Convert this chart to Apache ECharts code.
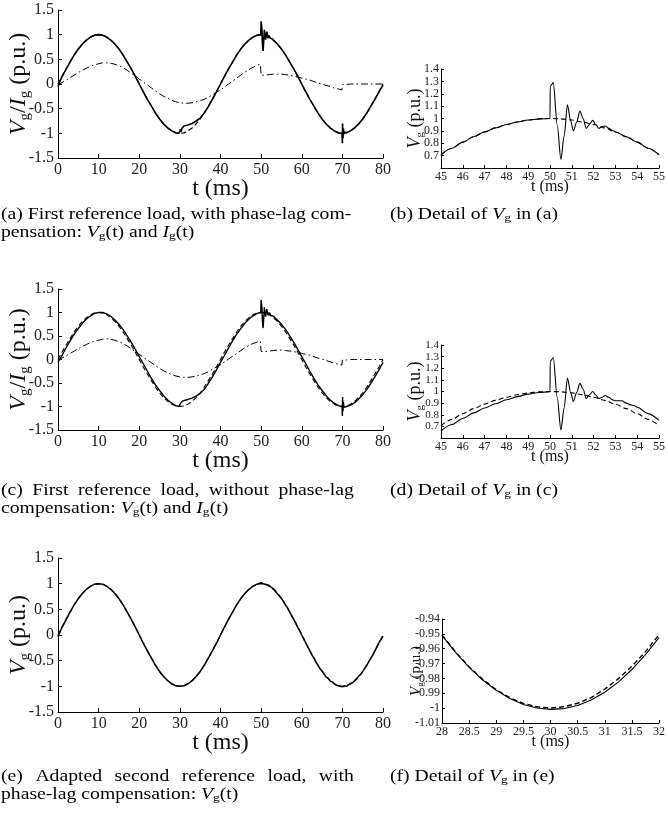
<!DOCTYPE html>
<html><head><meta charset="utf-8">
<script src="https://cdn.jsdelivr.net/npm/echarts@6/dist/echarts.min.js"></script>
<style>html,body{margin:0;padding:0;background:#fff}#c{width:668px;height:817px}</style>
</head><body><div id="c"></div>
<script>
// ---------------- DATA ----------------
// reference voltage (dashed), main plots, 1 ms steps
const tRef = [0,1,2,3,4,5,6,7,8,9,10,11,12,13,14,15,16,17,18,19,20,21,22,23,24,25,26,27,28,29,30,31,32,33,34,35,36,37,38,39,40,41,42,43,44,45,46,47,48,49,50,51,52,53,54,55,56,57,58,59,60,61,62,63,64,65,66,67,68,69,70,71,72,73,74,75,76,77,78,79,80];
const vRef = [0,0.16,0.31,0.45,0.59,0.71,0.81,0.89,0.95,0.99,1,0.99,0.95,0.89,0.81,0.71,0.59,0.45,0.31,0.16,0,-0.16,-0.31,-0.45,-0.59,-0.71,-0.81,-0.89,-0.95,-0.99,-1,-0.99,-0.95,-0.89,-0.81,-0.71,-0.59,-0.45,-0.31,-0.16,0,0.16,0.31,0.45,0.59,0.71,0.81,0.89,0.95,0.99,1,0.99,0.95,0.89,0.81,0.71,0.59,0.45,0.31,0.16,0,-0.16,-0.31,-0.45,-0.59,-0.71,-0.81,-0.89,-0.95,-0.99,-1,-0.99,-0.95,-0.89,-0.81,-0.71,-0.59,-0.45,-0.31,-0.16,0];

// measured V_g time base (a),(c)
const tMain = [0,0.5,1,
  2,3,4,5,6,7,8,9,10,11,12,13,14,15,16,17,18,19,20,21,22,23,24,25,26,27,28,29,
  29.8,30,30.15,30.3,30.5,30.7,
  31,32,33,34,35,36,37,38,39,40,41,42,43,44,45,46,47,48,49,
  49.9,
  50,50.1,50.2,50.3,50.4,50.5,50.65,50.8,50.95,51.1,51.25,51.4,51.55,51.7,51.85,52,52.2,52.4,52.6,52.8,53,
  54,55,56,57,58,59,60,61,62,63,64,65,66,67,68,69,
  69.9,
  70,70.05,70.15,70.25,70.35,70.5,70.7,
  71,72,73,74,75,76,77,78,79,80];
const vgA = [-0.05,0.06,0.15,
  0.3,0.45,0.59,0.71,0.81,0.89,0.95,0.99,1,0.99,0.95,0.89,0.81,0.71,0.59,0.45,0.31,0.16,0,-0.16,-0.31,-0.45,-0.59,-0.71,-0.81,-0.89,-0.95,-0.99,
  -1,-0.98,-0.92,-0.97,-0.9,-0.87,
  -0.85,-0.83,-0.8,-0.75,-0.69,-0.59,-0.46,-0.31,-0.16,0,0.16,0.31,0.45,0.59,0.71,0.81,0.89,0.95,0.99,
  1,
  1.27,1.29,1.1,0.85,0.72,0.67,0.9,1.1,0.98,0.9,0.98,1.06,1,0.93,0.95,0.98,0.93,0.94,0.93,0.91,0.89,
  0.81,0.71,0.59,0.45,0.31,0.16,0,-0.16,-0.31,-0.45,-0.59,-0.71,-0.81,-0.89,-0.95,-0.99,
  -1,
  -1.2,-0.8,-1.1,-0.9,-1.02,-0.97,-0.99,
  -0.99,-0.95,-0.89,-0.81,-0.71,-0.59,-0.45,-0.31,-0.16,-0.02];
const vgC = [-0.05,0.02,0.09,
  0.25,0.4,0.54,0.66,0.77,0.86,0.93,0.98,1,1,0.97,0.92,0.84,0.75,0.64,0.51,0.37,0.22,0.06,-0.09,-0.25,-0.4,-0.54,-0.66,-0.77,-0.86,-0.93,-0.98,
  -1,-0.99,-0.93,-0.97,-0.91,-0.88,
  -0.86,-0.85,-0.82,-0.78,-0.72,-0.64,-0.51,-0.37,-0.22,-0.06,0.09,0.25,0.4,0.54,0.66,0.77,0.86,0.93,0.98,
  1,
  1.27,1.29,1.1,0.85,0.72,0.67,0.9,1.11,0.98,0.91,0.99,1.07,1.01,0.94,0.97,1,0.96,0.94,0.965,0.94,0.92,
  0.84,0.75,0.64,0.51,0.37,0.22,0.06,-0.09,-0.25,-0.4,-0.54,-0.66,-0.77,-0.86,-0.93,-0.98,
  -1,
  -1.2,-0.8,-1.1,-0.9,-1.02,-0.98,-1,
  -1,-0.97,-0.92,-0.84,-0.75,-0.64,-0.51,-0.37,-0.22,-0.06];

// measured current I_g (dash-dot)
const tIg = [0,1,2,3,4,5,6,7,8,9,10,11,12,13,14,15,16,17,18,19,20,21,22,23,24,25,26,27,28,29,30,31,32,33,34,35,36,37,38,39,40,41,42,43,44,45,46,47,48,49,
  49.8,
  50,51,52,53,54,55,56,57,58,59,60,61,62,63,64,65,66,67,68,69,
  69.9,
  70,71,72,73,74,75,76,77,78,79,80];
const igA = [-0.02,0.03,0.08,0.13,0.18,0.23,0.28,0.32,0.36,0.39,0.41,0.43,0.43,0.42,0.4,0.37,0.33,0.28,0.22,0.16,0.1,0.04,-0.02,-0.08,-0.14,-0.2,-0.25,-0.29,-0.33,-0.36,-0.38,-0.39,-0.39,-0.38,-0.36,-0.34,-0.31,-0.27,-0.22,-0.17,-0.12,-0.06,0,0.06,0.12,0.18,0.24,0.29,0.34,0.38,
  0.4,
  0.18,0.18,0.19,0.2,0.2,0.2,0.19,0.18,0.16,0.14,0.12,0.1,0.08,0.05,0.02,0,-0.03,-0.05,-0.08,-0.1,
  -0.12,
  -0.01,-0.01,0,0,0,0,0,0,0,0,0];
const igC = [-0.02,0.03,0.08,0.13,0.18,0.23,0.28,0.32,0.36,0.39,0.41,0.43,0.44,0.43,0.41,0.38,0.34,0.29,0.23,0.17,0.11,0.05,-0.01,-0.07,-0.13,-0.19,-0.24,-0.28,-0.32,-0.35,-0.37,-0.38,-0.38,-0.37,-0.35,-0.33,-0.3,-0.26,-0.21,-0.16,-0.11,-0.05,0.01,0.07,0.13,0.19,0.25,0.3,0.34,0.37,
  0.39,
  0.17,0.17,0.18,0.19,0.2,0.2,0.19,0.18,0.17,0.15,0.13,0.11,0.09,0.06,0.03,0.01,-0.02,-0.05,-0.08,-0.1,
  -0.12,
  -0.01,-0.01,0,0,0,0,0,0,0,0,0];

// (e) measured V_g
const tE = [0,0.5,1,2,3,4,5,6,7,8,9,10,11,12,13,14,15,16,17,18,19,20,21,22,23,24,25,26,27,28,29,30,31,32,33,34,35,36,37,38,39,40,41,42,43,44,45,46,47,48,49,50,
  50.5,51,51.5,52,52.5,53,53.5,54,54.5,55,55.5,56,56.5,57,57.5,58,58.5,59,59.5,60,60.5,61,61.5,62,62.5,63,63.5,64,64.5,65,65.5,66,66.5,67,67.5,68,68.5,69,69.5,70,70.5,71,71.5,72,72.5,73,73.5,74,74.5,75,75.5,76,76.5,77,77.5,78,78.5,79,79.5,80];
const vgE = [-0.03,0.06,0.15,0.3,0.45,0.59,0.71,0.81,0.89,0.95,0.99,1,0.99,0.95,0.89,0.81,0.71,0.59,0.45,0.31,0.16,0,-0.16,-0.31,-0.45,-0.59,-0.71,-0.81,-0.89,-0.95,-0.99,-1,-0.99,-0.95,-0.89,-0.81,-0.71,-0.59,-0.45,-0.31,-0.16,0,0.16,0.31,0.45,0.59,0.71,0.81,0.89,0.95,0.99,1.02,
  1,0.99,0.98,0.965,0.93,0.9,0.86,0.8,0.765,0.71,0.655,0.58,0.53,0.455,0.375,0.31,0.23,0.15,0.085,0,-0.07,-0.16,-0.23,-0.31,-0.39,-0.45,-0.53,-0.59,-0.66,-0.7,-0.76,-0.82,-0.84,-0.9,-0.91,-0.95,-0.98,-0.99,-1,-1.01,-0.99,-1,-0.97,-0.95,-0.93,-0.89,-0.86,-0.8,-0.77,-0.71,-0.65,-0.59,-0.52,-0.45,-0.39,-0.31,-0.23,-0.15,-0.09,-0.02];

// detail (b), (d)
const tDetRef = [45,45.5,46,46.5,47,47.5,48,48.5,49,49.5,50,50.5,51,51.5,52,52.5,53,53.5,54,54.5,55];
const vDetRef = [0.707,0.76,0.809,0.853,0.891,0.924,0.951,0.972,0.988,0.997,1,0.997,0.988,0.972,0.951,0.924,0.891,0.853,0.809,0.76,0.707];
const tB = [45,45.5,46,46.5,47,47.5,48,48.5,49,49.5,50,50.01,50.15,50.33,50.5,50.65,50.8,50.95,51.07,51.22,51.37,51.52,51.66,51.8,51.96,52.1,52.24,52.4,52.53,52.7,52.85,53,53.5,54,54.5,55];
const vB = [0.707,0.76,0.809,0.853,0.891,0.924,0.951,0.972,0.988,0.997,1,1.26,1.29,0.95,0.67,0.86,1.11,0.98,0.9,0.97,1.06,1,0.92,0.95,0.985,0.95,0.92,0.935,0.94,0.92,0.905,0.891,0.853,0.809,0.76,0.707];
const tD = [45,45.5,46,46.5,47,47.5,48,48.5,49,49.5,50,50.01,50.15,50.33,50.5,50.65,50.8,50.95,51.07,51.22,51.37,51.52,51.66,51.8,51.96,52.1,52.24,52.4,52.53,52.7,52.85,53,53.3,53.5,53.7,53.85,54,54.5,55];
const vD = [0.66,0.716,0.768,0.816,0.858,0.895,0.929,0.956,0.977,0.992,0.998,1.26,1.29,0.95,0.67,0.86,1.115,0.99,0.915,0.99,1.07,1.02,0.94,0.97,1,0.97,0.94,0.95,0.965,0.95,0.93,0.92,0.92,0.9,0.885,0.88,0.865,0.81,0.752];

// detail (f)
const tF = [28,28.25,28.5,28.75,29,29.25,29.5,29.75,30,30.25,30.5,30.75,31,31.25,31.5,31.75,32];
const vF = [-0.9511,-0.9624,-0.9725,-0.9811,-0.988,-0.9935,-0.9975,-0.9999,-1.0008,-1.0003,-0.9982,-0.9945,-0.9893,-0.9825,-0.974,-0.964,-0.9525];
const vFRef = [-0.9508,-0.9622,-0.9722,-0.9806,-0.9876,-0.993,-0.9968,-0.9991,-0.9999,-0.9991,-0.9967,-0.9929,-0.9872,-0.9802,-0.9718,-0.962,-0.9506];

// tick definitions
const mainX = {min:0, max:80, step:10};
const mainY = {min:-1.5, max:1.5, step:0.5};
const detX = {min:45, max:55, step:1};
const detY = {min:0.6, max:1.4, step:0.1};
const fX = {min:28, max:32, step:0.5};
const fY = {min:-1.01, max:-0.94, step:0.01};

// ---------------- CHART ----------------
const FONT = "'Liberation Serif','Times New Roman',serif";
const pairs = (t, v) => t.map((x, i) => [x, v[i]]);
const fmt = v => String(parseFloat((+v).toFixed(3)));

const grids = [
  {left:58, top:10, width:325, height:148},
  {left:441, top:69, width:222, height:99},
  {left:58, top:289, width:325, height:141},
  {left:441, top:345, width:222, height:93},
  {left:58, top:558, width:325, height:154},
  {left:442, top:619, width:221, height:104}
];

function xAx(i, r, big, gap) {
  return {type:'value', gridIndex:i, min:r.min, max:r.max, interval:r.step,
    axisLine:{show:true, onZero:false, lineStyle:{color:'#000', width:1}},
    axisTick:{show:true, inside:true, length: big?4:3, lineStyle:{color:'#000'}},
    splitLine:{show:false},
    axisLabel:{color:'#222', fontFamily:FONT, fontSize: big?16:12, margin: big?4:3, formatter:fmt, showMinLabel:true, showMaxLabel:true, hideOverlap:false},
    name:'t (ms)', nameLocation:'middle', nameGap: gap, nameMoveOverlap:false,
    nameTextStyle:{color:'#111', fontFamily:FONT, fontSize: big?24:16}
  };
}
function yAx(i, r, big, nameRich, gap, hideMin, fs, lfs) {
  return {type:'value', gridIndex:i, min:r.min, max:r.max, interval:r.step,
    axisLine:{show:true, onZero:false, lineStyle:{color:'#000', width:1}},
    axisTick:{show:true, inside:true, length: big?4:3, lineStyle:{color:'#000'}},
    splitLine:{show:false},
    axisLabel:{color:'#222', fontFamily:FONT, fontSize: lfs, lineHeight: big?16:9, margin: big?4:2, formatter:fmt, showMinLabel: !hideMin, showMaxLabel:true, hideOverlap:false},
    name:nameRich, nameLocation:'middle', nameGap:gap, nameRotate:90, nameMoveOverlap:false,
    nameTextStyle:{color:'#111', fontFamily:FONT, fontSize:fs,
      rich:{
        i:{fontFamily:FONT, fontStyle:'italic', fontSize:fs, lineHeight:Math.round(fs*1.15), color:'#111'},
        n:{fontFamily:FONT, fontSize:fs, lineHeight:Math.round(fs*1.15), color:'#111'},
        s:{fontFamily:FONT, fontSize:Math.round(fs*0.62), lineHeight:Math.round(fs*0.55), verticalAlign:'bottom', color:'#111'}
      }}
  };
}
const VI = '{i|V}{s|g}{n|/}{i|I}{s|g}{n| (p.u.)}';
const VO = '{i|V}{s|g}{n| (p.u.)}';

const xAxis = [xAx(0,mainX,true,19), xAx(1,detX,false,11), xAx(2,mainX,true,19), xAx(3,detX,false,11), xAx(4,mainX,true,19), xAx(5,fX,false,11)];
const yAxis = [
  yAx(0,mainY,true,VI,25,false,24,16),
  yAx(1,detY,false,VO,15,true,18,12),
  yAx(2,mainY,true,VI,25,false,24,16),
  yAx(3,detY,false,VO,15,true,18,11),
  yAx(4,mainY,true,VO,25,false,24,16),
  yAx(5,fY,false,VO,17,false,15,12)
];

const solid = w => ({color:'#000', width:w, type:'solid'});
const dashed = w => ({color:'#000', width:w, type:[5,3]});
const dashdot = w => ({color:'#000', width:w, type:[7,3,1.5,3]});
function ser(i, data, ls, z, smooth) {
  const s = {type:'line', xAxisIndex:i, yAxisIndex:i, data, symbol:'none', showSymbol:false,
    lineStyle:ls, z, smooth: smooth||false, silent:true, animation:false};
  if (smooth) s.smoothMonotone = 'x';
  return s;
}

const series = [
  ser(0, pairs(tRef, vRef), dashed(1.2), 2),
  ser(0, pairs(tIg, igA), dashdot(1), 1),
  ser(0, pairs(tMain, vgA), solid(1.6), 3),
  ser(1, pairs(tDetRef, vDetRef), dashed(1.1), 2, 0.3),
  ser(1, pairs(tB, vB), solid(1.1), 3, 0.3),
  ser(2, pairs(tRef, vRef), dashed(1.1), 2),
  ser(2, pairs(tIg, igC), dashdot(1), 1),
  ser(2, pairs(tMain, vgC), solid(1.4), 3),
  ser(3, pairs(tDetRef, vDetRef), dashed(1.1), 2, 0.3),
  ser(3, pairs(tD, vD), solid(1.1), 3, 0.3),
  ser(4, pairs(tRef, vRef), dashed(1.2), 2),
  ser(4, pairs(tE, vgE), solid(1.5), 3),
  ser(5, pairs(tF, vFRef), dashed(1.4), 2),
  ser(5, pairs(tF, vF), solid(1.1), 3)
];

// captions: Times-like text, slightly wide as in the reference
const CAP = 16;
const SX = 1.23;
const capRich = {
  i:{fontFamily:FONT, fontStyle:'italic', fontSize:CAP, lineHeight:18, fill:'#000'},
  s:{fontFamily:FONT, fontSize:11, lineHeight:10, verticalAlign:'bottom', fill:'#000'},
  c:{fontFamily:FONT, fontSize:CAP, lineHeight:18, width:7.7, fill:'#000'},
  e:{fontFamily:FONT, fontSize:CAP, lineHeight:18, width:10.2, fill:'#000'}
};
function cap(x, y, text) {
  return {type:'text', x, y, scaleX:SX, scaleY:1, silent:true,
    style:{text, fontFamily:FONT, fontSize:CAP, lineHeight:18, fill:'#000', rich:capRich, verticalAlign:'top'}};
}
const graphic = [
  cap(1, 206, '(a) First reference load, with phase-lag com-\npensation: {i|V}{s|g}(t) and {i|I}{s|g}(t)'),
  cap(390, 206, '(b) Detail of {i|V}{s|g} in (a)'),
  cap(1, 482, '(c){c| }First{c| }reference{c| }load,{c| }without{c| }phase-lag\ncompensation: {i|V}{s|g}(t) and {i|I}{s|g}(t)'),
  cap(390, 482, '(d) Detail of {i|V}{s|g} in (c)'),
  cap(1, 768, '(e){e| }Adapted{e| }second{e| }reference{e| }load,{e| }with\nphase-lag compensation: {i|V}{s|g}(t)'),
  cap(390, 768, '(f) Detail of {i|V}{s|g} in (e)')
];

const chart = echarts.init(document.getElementById('c'), null, {renderer:'canvas'});
chart.setOption({animation:false, backgroundColor:'#fff', grid:grids, xAxis, yAxis, series, graphic});
</script></body></html>
